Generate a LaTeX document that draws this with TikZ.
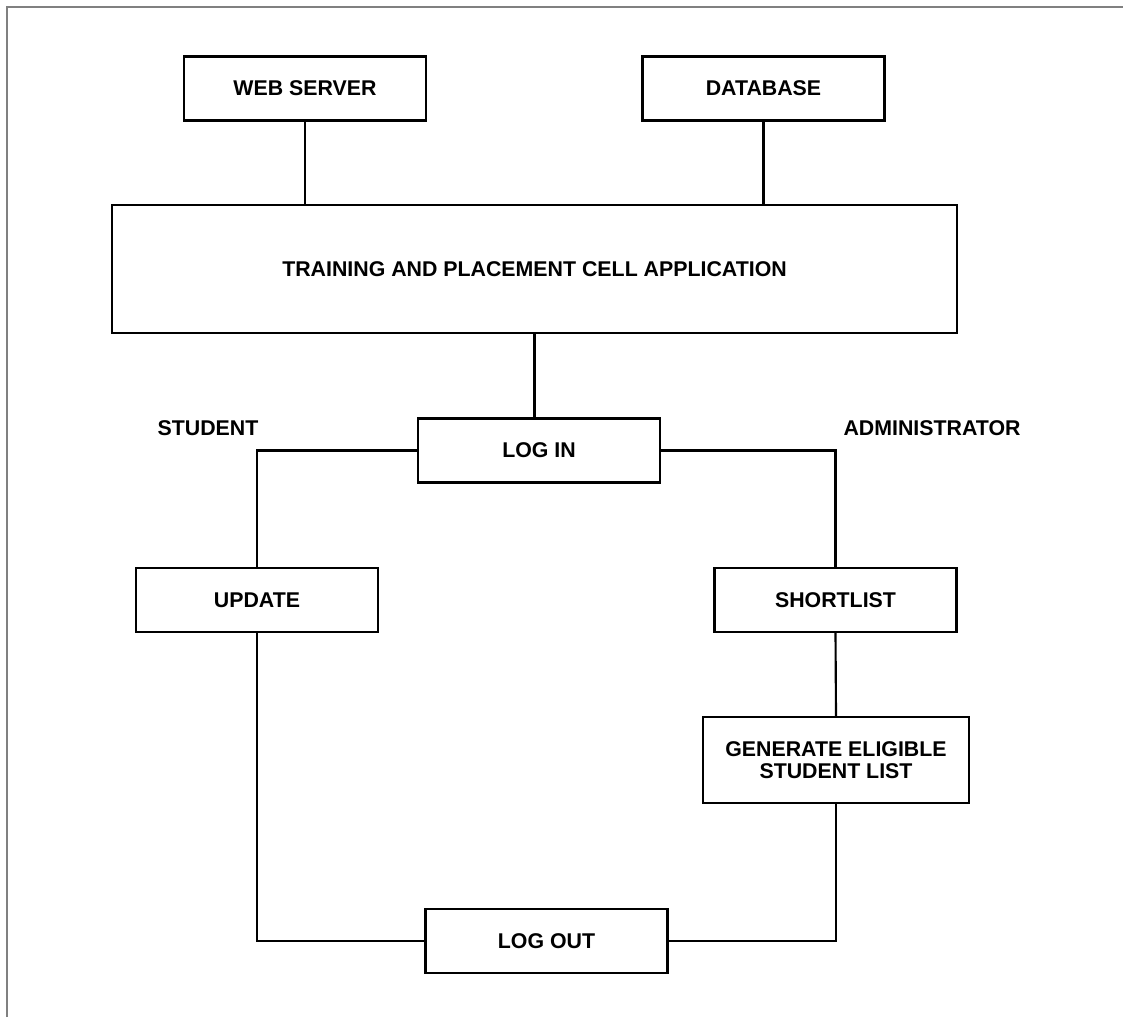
\documentclass[tikz,border=0pt]{standalone}
\usepackage{fontspec}
\setmainfont{Liberation Sans}
\begin{document}
\begin{tikzpicture}[x=0.75pt,y=-0.75pt,
  every node/.style={font=\fontsize{16}{17}\selectfont\bfseries, inner sep=0pt},
  box/.style={draw=black, line width=1.6pt, minimum width=181.5pt, minimum height=48pt, align=center},
  lbl/.style={},
  link/.style={draw=black, line width=1.6pt}]
  \useasboundingbox (0,0) rectangle (1123,1017);
  \draw[line width=1.5pt, draw=black!50] (7,1017) -- (7,7) -- (1123,7);

  \node[box] (ws) at (305,88.5) {WEB SERVER};
  \node[box] (db) at (763.5,88.5) {DATABASE};
  \node[box, minimum width=633.75pt, minimum height=96pt] (app) at (534.5,269) {TRAINING AND PLACEMENT CELL APPLICATION};
  \node[box] (login) at (539,450.5) {LOG IN};
  \node[lbl] (student) at (208,428) {STUDENT};
  \node[lbl] (admin) at (932,428) {ADMINISTRATOR};
  \node[box] (update) at (257,600) {UPDATE};
  \node[box] (short) at (835.5,600) {SHORTLIST};
  \node[box, minimum width=199.5pt, minimum height=64.5pt] (gen) at (836,760) {GENERATE ELIGIBLE\\STUDENT LIST};
  \node[box] (logout) at (546.5,941) {LOG OUT};

  \draw[link] (ws.south) -- (ws.south |- app.north);
  \draw[link] (db.south) -- (db.south |- app.north);
  \draw[link] (app.south) -- (app.south |- login.north);
  \draw[link] (login.west) -- (update.north |- login.west) -- (update.north);
  \draw[link] (login.east) -- (short.north |- login.east) -- (short.north);
  \draw[link] (short.south) -- (gen.north);
  \draw[link] (update.south) -- (update.south |- logout.west) -- (logout.west);
  \draw[link] (gen.south) -- (gen.south |- logout.east) -- (logout.east);
\end{tikzpicture}
\end{document}
